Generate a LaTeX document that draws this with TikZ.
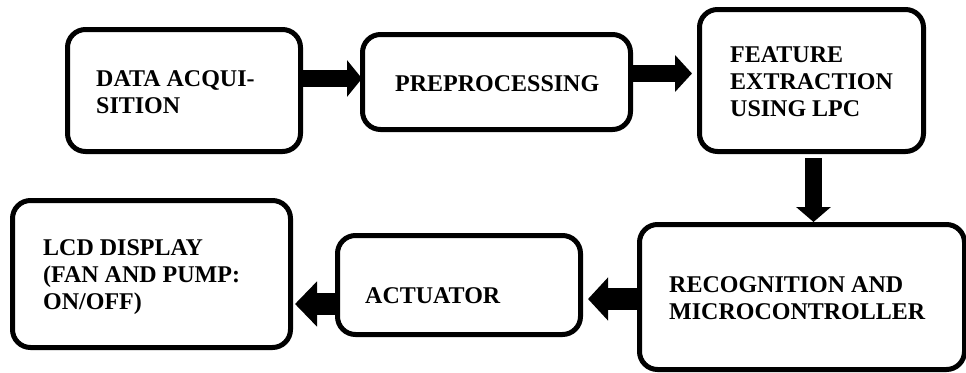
\documentclass[tikz,border=0pt]{standalone}
\usepackage{fontspec}
\setmainfont{Liberation Serif}[BoldFont={Liberation Serif Bold}]
\usetikzlibrary{arrows.meta}
\tikzset{
  blockbox/.style={draw=black, line width=5pt, rounded corners=18pt, fill=none, inner sep=0pt},
  lbl/.style={inner sep=0pt, font=\fontsize{24}{27}\selectfont\bfseries, anchor=base west},
  fat/.style={draw=black, line cap=butt}
}
\newcommand{\lines}[1]{\begin{tabular}[t]{@{}l@{}}#1\end{tabular}}
\begin{document}
\begin{tikzpicture}[x=1pt,y=-1pt]
\useasboundingbox (0,0) rectangle (966,372);
\clip (0,0) rectangle (966,372);
% blocks
\node[blockbox, minimum width=233pt, minimum height=122pt] (acq) at (184,90.5) {};
\node[blockbox, minimum width=268pt, minimum height=95pt] (pre) at (496.5,82) {};
\node[blockbox, minimum width=224pt, minimum height=142pt] (feat) at (811.5,80.5) {};
\node[blockbox, minimum width=325pt, minimum height=145pt] (rec) at (802,297) {};
\node[blockbox, minimum width=243pt, minimum height=99pt] (act) at (459,285) {};
\node[blockbox, minimum width=278pt, minimum height=147pt] (lcd) at (151.5,274) {};
% labels
\node[lbl] (tacq) at (96,86) {\lines{DATA ACQUI-\\SITION}};
\node[lbl] (tpre) at (395,91) {PREPROCESSING};
\node[lbl] (tfeat) at (730,62) {\lines{FEATURE\\EXTRACTION\\USING LPC}};
\node[lbl] (trec) at (669,292) {\lines{RECOGNITION AND\\MICROCONTROLLER}};
\node[lbl] (tact) at (365,303) {ACTUATOR};
\node[lbl] (tlcd) at (43,255) {\lines{LCD DISPLAY\\(FAN AND PUMP:\\ON/OFF)}};
% block arrows
\draw[fat, line width=17pt, -{Triangle[width=36pt,length=15pt]}]
  (acq.east |- 0,78.5) -- ([xshift=2pt]pre.west |- 0,78.5);
\draw[fat, line width=17pt, -{Triangle[width=36pt,length=17pt]}]
  (pre.east |- 0,73.5) -- ([xshift=-5pt]feat.west |- 0,73.5);
\draw[fat, line width=17pt, -{Triangle[width=34pt,length=15pt]}]
  ([yshift=-4pt]feat.south -| 813.5,0) -- (rec.north -| 813.5,0);
\draw[fat, line width=22pt, -{Triangle[width=42pt,length=20pt]}]
  (rec.west |- 0,299) -- ([xshift=5pt]act.east |- 0,299);
\draw[fat, line width=22pt, -{Triangle[width=44pt,length=22pt]}]
  (act.west |- 0,304) -- ([xshift=2pt]lcd.east |- 0,304);
\end{tikzpicture}
\end{document}
